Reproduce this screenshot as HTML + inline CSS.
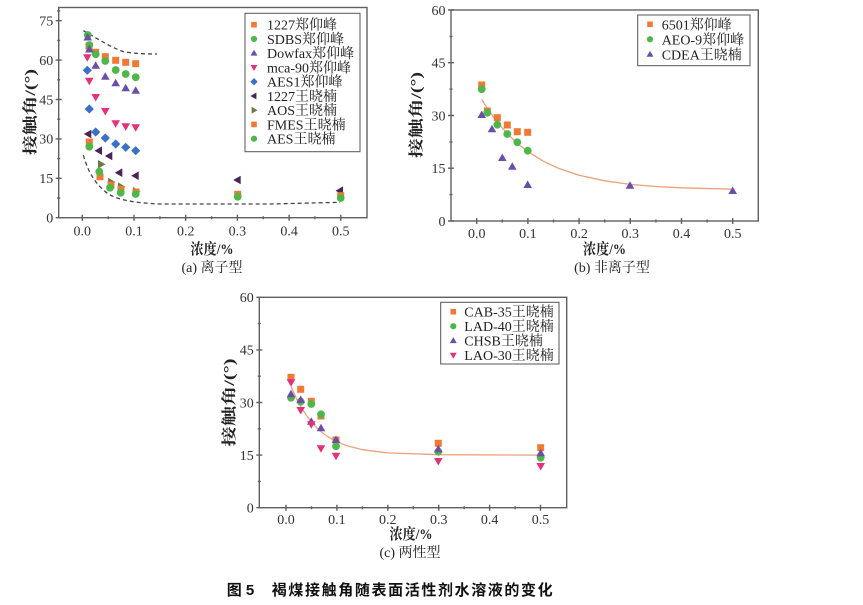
<!DOCTYPE html>
<html><head><meta charset="utf-8">
<style>
html,body{margin:0;padding:0;background:#fff;}
svg{display:block;}
.tk{font-family:"Liberation Serif","Noto Serif CJK SC",serif;font-size:14px;fill:#333;}
.lg{font-family:"Liberation Serif","Noto Serif CJK SC",serif;font-size:14px;fill:#222;}
.ti{font-family:"Liberation Serif","Noto Serif CJK SC",serif;font-size:15px;font-weight:bold;fill:#222;}
.sc{font-family:"Liberation Serif","Noto Serif CJK SC",serif;font-size:14px;fill:#222;}
.cap{font-family:"Liberation Sans","Noto Sans CJK SC",sans-serif;font-size:15px;font-weight:bold;fill:#111;}
</style></head>
<body>
<svg width="863" height="605" viewBox="0 0 863 605" xmlns="http://www.w3.org/2000/svg">
<defs>
<rect id="sq" x="-3.5" y="-3.5" width="7" height="7"/>
<circle id="ci" cx="0" cy="0" r="3.9"/>
<polygon id="tu" points="0,-4.5 4.3,3 -4.3,3"/>
<polygon id="td" points="0,4.5 4.3,-3 -4.3,-3"/>
<polygon id="di" points="0,-4.6 4.6,0 0,4.6 -4.6,0"/>
<polygon id="tl" points="-4.5,0 3,-4.3 3,4.3"/>
<polygon id="tr" points="4.5,0 -3,-4.3 -3,4.3"/>
</defs>

<!-- ================= (a) ================= -->
<g stroke="#606060" stroke-width="1.4" fill="none">
<rect x="58.7" y="7.5" width="308.3" height="210.2"/>
<path d="M55.7,217.7h6 M55.7,178.3h6 M55.7,138.9h6 M55.7,99.5h6 M55.7,60.1h6 M55.7,20.7h6
M57.2,198h3 M57.2,158.6h3 M57.2,119.2h3 M57.2,79.8h3 M57.2,40.4h3 M57.2,10.8h3"/>
<path d="M82.3,214.7v6 M134,214.7v6 M185.7,214.7v6 M237.4,214.7v6 M289.1,214.7v6 M340.8,214.7v6
M108.2,216.2v3 M159.9,216.2v3 M211.6,216.2v3 M263.3,216.2v3 M314.9,216.2v3"/>
</g>
<g class="tk" text-anchor="end">
<text x="53.3" y="222.5">0</text><text x="53.3" y="183.1">15</text><text x="53.3" y="143.7">30</text>
<text x="53.3" y="104.3">45</text><text x="53.3" y="64.9">60</text><text x="53.3" y="25.5">75</text>
</g>
<g class="tk" text-anchor="middle">
<text x="82.3" y="235.5">0.0</text><text x="134" y="235.5">0.1</text><text x="185.7" y="235.5">0.2</text>
<text x="237.4" y="235.5">0.3</text><text x="289.1" y="235.5">0.4</text><text x="340.8" y="235.5">0.5</text>
</g>
<text class="ti" transform="translate(35,112) rotate(-90)" text-anchor="middle" textLength="86" lengthAdjust="spacingAndGlyphs">接触角/(°)</text>
<text class="ti" x="212" y="254" text-anchor="middle" textLength="43" lengthAdjust="spacingAndGlyphs">浓度/%</text>
<text class="sc" x="212" y="272" text-anchor="middle">(a) 离子型</text>

<g stroke="#444" stroke-width="1.3" fill="none" stroke-dasharray="4,3">
<path d="M83.3,30.7 C95,37 108,46 123,51.5 C132,53.5 145,54 157,54"/>
<path d="M83.3,155 C88,172 96,186 110,195 C120,200 135,203 160,204 L270,204 L340,202.3"/>
</g>

<g fill="#f07a35">
<use href="#sq" x="89" y="46"/><use href="#sq" x="95.5" y="52.3"/><use href="#sq" x="105.3" y="56.7"/>
<use href="#sq" x="115.7" y="60.3"/><use href="#sq" x="125.7" y="62.3"/><use href="#sq" x="135.7" y="63.7"/>
</g>
<g fill="#4fb648">
<use href="#ci" x="87.7" y="35"/><use href="#ci" x="89.3" y="45"/><use href="#ci" x="95.7" y="54.3"/>
<use href="#ci" x="105.3" y="61"/><use href="#ci" x="115.7" y="70"/><use href="#ci" x="125.7" y="74"/><use href="#ci" x="135.7" y="77.3"/>
</g>
<g fill="#6b4ea8">
<use href="#tu" x="87.7" y="37.5"/><use href="#tu" x="89.3" y="49.5"/><use href="#tu" x="95.7" y="65.7"/>
<use href="#tu" x="105.3" y="76.7"/><use href="#tu" x="115.7" y="83.3"/><use href="#tu" x="125.7" y="88.3"/><use href="#tu" x="135.7" y="90.7"/>
</g>
<g fill="#e5307a">
<use href="#td" x="87.3" y="57.3"/><use href="#td" x="89.3" y="80.7"/><use href="#td" x="95.7" y="97"/>
<use href="#td" x="105.3" y="111"/><use href="#td" x="115.7" y="123.3"/><use href="#td" x="125.7" y="126.3"/><use href="#td" x="135.7" y="127.3"/>
</g>
<g fill="#3a70c6">
<use href="#di" x="87.3" y="70.3"/><use href="#di" x="89.3" y="109"/><use href="#di" x="95.7" y="132"/>
<use href="#di" x="105.3" y="138"/><use href="#di" x="115.7" y="144"/><use href="#di" x="125.7" y="147.3"/><use href="#di" x="135.7" y="150.7"/>
</g>
<g fill="#4a2359">
<use href="#tl" x="88.3" y="134"/><use href="#tl" x="99" y="150.7"/><use href="#tl" x="109.3" y="156"/>
<use href="#tl" x="119.3" y="172.7"/><use href="#tl" x="135.7" y="175.7"/><use href="#tl" x="237.7" y="180"/><use href="#tl" x="340" y="190.7"/>
</g>
<g fill="#6f7a3e">
<use href="#tr" x="101" y="164.3"/><use href="#tr" x="111" y="182"/><use href="#tr" x="121" y="186.7"/><use href="#tr" x="136" y="191.3"/>
</g>
<g fill="#f07a35">
<use href="#sq" x="89.3" y="142"/><use href="#sq" x="100" y="176.7"/><use href="#sq" x="111" y="185"/>
<use href="#sq" x="121" y="189.3"/><use href="#sq" x="136" y="192"/><use href="#sq" x="237.7" y="194.3"/><use href="#sq" x="340.7" y="195.7"/>
</g>
<g fill="#4fb648">
<use href="#ci" x="89.3" y="146.7"/><use href="#ci" x="99.3" y="171.7"/><use href="#ci" x="110" y="187.7"/>
<use href="#ci" x="120.7" y="192.7"/><use href="#ci" x="135.7" y="194"/><use href="#ci" x="237.7" y="196.7"/><use href="#ci" x="340.7" y="198"/>
</g>

<rect x="245" y="13.3" width="115" height="138.4" fill="#fff" stroke="#555" stroke-width="1"/>
<use href="#sq" transform="translate(254,24.7) scale(0.8)" fill="#f07a35"/>
<use href="#ci" transform="translate(254,38.95) scale(0.8)" fill="#4fb648"/>
<use href="#tu" transform="translate(254,53.2) scale(0.8)" fill="#6b4ea8"/>
<use href="#td" transform="translate(254,67.45) scale(0.8)" fill="#e5307a"/>
<use href="#di" transform="translate(254,81.7) scale(0.8)" fill="#3a70c6"/>
<use href="#tl" transform="translate(254,95.95) scale(0.8)" fill="#4a2359"/>
<use href="#tr" transform="translate(254,110.2) scale(0.8)" fill="#6f7a3e"/>
<use href="#sq" transform="translate(254,124.45) scale(0.8)" fill="#f07a35"/>
<use href="#ci" transform="translate(254,138.7) scale(0.8)" fill="#4fb648"/>
<g class="lg">
<text x="267" y="29.7">1227郑仰峰</text>
<text x="267" y="43.95">SDBS郑仰峰</text>
<text x="267" y="58.2">Dowfax郑仰峰</text>
<text x="267" y="72.45">mca-90郑仰峰</text>
<text x="267" y="86.7">AES1郑仰峰</text>
<text x="267" y="100.95">1227王晓楠</text>
<text x="267" y="115.2">AOS王晓楠</text>
<text x="267" y="129.45">FMES王晓楠</text>
<text x="267" y="143.7">AES王晓楠</text>
</g>

<!-- ================= (b) ================= -->
<g stroke="#606060" stroke-width="1.4" fill="none">
<rect x="451" y="10" width="307.3" height="211"/>
<path d="M448,221h6 M448,168.2h6 M448,115.5h6 M448,62.7h6 M448,10h6
M449.5,194.6h3 M449.5,141.9h3 M449.5,89.1h3 M449.5,36.4h3"/>
<path d="M476.7,218v6 M527.9,218v6 M579.1,218v6 M630.3,218v6 M681.5,218v6 M732.7,218v6
M502.3,219.5v3 M553.5,219.5v3 M604.7,219.5v3 M655.9,219.5v3 M707.1,219.5v3"/>
</g>
<g class="tk" text-anchor="end">
<text x="445.5" y="225.8">0</text><text x="445.5" y="173">15</text><text x="445.5" y="120.3">30</text>
<text x="445.5" y="67.5">45</text><text x="445.5" y="14.8">60</text>
</g>
<g class="tk" text-anchor="middle">
<text x="476.7" y="238">0.0</text><text x="527.9" y="238">0.1</text><text x="579.1" y="238">0.2</text>
<text x="630.3" y="238">0.3</text><text x="681.5" y="238">0.4</text><text x="732.7" y="238">0.5</text>
</g>
<text class="ti" transform="translate(421,115) rotate(-90)" text-anchor="middle" textLength="86" lengthAdjust="spacingAndGlyphs">接触角/(°)</text>
<text class="ti" x="604.5" y="254" text-anchor="middle" textLength="43" lengthAdjust="spacingAndGlyphs">浓度/%</text>
<text class="sc" x="612" y="272" text-anchor="middle">(b) 非离子型</text>

<polyline fill="none" stroke="#eba27c" stroke-width="1.3" points="481.8,99.6 486.9,107.8 497.2,122.1 507.4,133.8 517.7,143.6 527.9,151.6 543.3,161.2 558.6,168.4 579.1,175.2 604.7,180.8 630.3,184.4 655.9,186.5 681.5,187.8 732.7,189.2"/>
<g fill="#f07a35">
<use href="#sq" x="481.7" y="85"/><use href="#sq" x="487.3" y="111"/><use href="#sq" x="497.3" y="117.7"/>
<use href="#sq" x="507.3" y="125"/><use href="#sq" x="517.3" y="131.7"/><use href="#sq" x="527.7" y="132.3"/>
</g>
<g fill="#4fb648">
<use href="#ci" x="481.7" y="89.3"/><use href="#ci" x="487.3" y="112.7"/><use href="#ci" x="497.3" y="124.7"/>
<use href="#ci" x="507.3" y="134"/><use href="#ci" x="517.3" y="142.3"/><use href="#ci" x="527.7" y="150.7"/>
</g>
<g fill="#6b4ea8">
<use href="#tu" x="481.7" y="115"/><use href="#tu" x="492" y="129.3"/><use href="#tu" x="502.3" y="158"/>
<use href="#tu" x="512.3" y="166.7"/><use href="#tu" x="527.7" y="185"/><use href="#tu" x="630" y="185.7"/><use href="#tu" x="732.7" y="191"/>
</g>
<rect x="637.7" y="15" width="112.3" height="50.7" fill="#fff" stroke="#555" stroke-width="1"/>
<use href="#sq" transform="translate(650,24.3) scale(0.8)" fill="#f07a35"/>
<use href="#ci" transform="translate(650,39.3) scale(0.8)" fill="#4fb648"/>
<use href="#tu" transform="translate(650,54.3) scale(0.8)" fill="#6b4ea8"/>
<g class="lg">
<text x="661.7" y="29.3">6501郑仰峰</text>
<text x="661.7" y="44.3">AEO-9郑仰峰</text>
<text x="661.7" y="59.3">CDEA王晓楠</text>
</g>

<!-- ================= (c) ================= -->
<g stroke="#606060" stroke-width="1.4" fill="none">
<rect x="259.3" y="297.3" width="307.4" height="210.4"/>
<path d="M256.3,507.7h6 M256.3,455.1h6 M256.3,402.5h6 M256.3,349.9h6 M256.3,297.3h6
M257.8,481.4h3 M257.8,428.8h3 M257.8,376.2h3 M257.8,323.6h3"/>
<path d="M286,504.7v6 M336.9,504.7v6 M387.8,504.7v6 M438.7,504.7v6 M489.6,504.7v6 M540.5,504.7v6
M311.5,506.2v3 M362.4,506.2v3 M413.3,506.2v3 M464.2,506.2v3 M515.1,506.2v3"/>
</g>
<g class="tk" text-anchor="end">
<text x="253.8" y="512.5">0</text><text x="253.8" y="459.9">15</text><text x="253.8" y="407.3">30</text>
<text x="253.8" y="354.7">45</text><text x="253.8" y="302.1">60</text>
</g>
<g class="tk" text-anchor="middle">
<text x="286" y="524">0.0</text><text x="336.9" y="524">0.1</text><text x="387.8" y="524">0.2</text>
<text x="438.7" y="524">0.3</text><text x="489.6" y="524">0.4</text><text x="540.5" y="524">0.5</text>
</g>
<text class="ti" transform="translate(234,402.5) rotate(-90)" text-anchor="middle" textLength="88" lengthAdjust="spacingAndGlyphs">接触角/(°)</text>
<text class="ti" x="411" y="539" text-anchor="middle" textLength="43" lengthAdjust="spacingAndGlyphs">浓度/%</text>
<text class="sc" x="410" y="557" text-anchor="middle">(c) 两性型</text>

<polyline fill="none" stroke="#eba27c" stroke-width="1.3" points="291.1,386.7 296.2,398.1 301.3,407.5 306.4,415.4 311.5,422 316.5,427.5 321.6,432.1 326.7,436 336.9,441.8 347.1,445.8 362.4,449.7 387.8,452.9 438.7,454.7 540.5,455.1"/>
<g fill="#f07a35">
<use href="#sq" x="291" y="377.3"/><use href="#sq" x="300.7" y="389.3"/><use href="#sq" x="311.3" y="401.3"/>
<use href="#sq" x="321" y="416"/><use href="#sq" x="336" y="440"/><use href="#sq" x="438.3" y="443.3"/><use href="#sq" x="540.7" y="447.7"/>
</g>
<g fill="#4fb648">
<use href="#ci" x="291" y="397.7"/><use href="#ci" x="300.7" y="401.7"/><use href="#ci" x="311.3" y="404"/>
<use href="#ci" x="321" y="414.3"/><use href="#ci" x="336" y="446.3"/><use href="#ci" x="438.3" y="451.7"/><use href="#ci" x="540.7" y="457.7"/>
</g>
<g fill="#6b4ea8">
<use href="#tu" x="291" y="394.3"/><use href="#tu" x="300.7" y="400"/><use href="#tu" x="311.3" y="421.7"/>
<use href="#tu" x="321" y="428.3"/><use href="#tu" x="336" y="440"/><use href="#tu" x="438.3" y="449.3"/><use href="#tu" x="540.7" y="453.3"/>
</g>
<g fill="#e5307a">
<use href="#td" x="291" y="382.3"/><use href="#td" x="300.7" y="410"/><use href="#td" x="311.3" y="424.3"/>
<use href="#td" x="321" y="448.3"/><use href="#td" x="336" y="455.7"/><use href="#td" x="438.3" y="461"/><use href="#td" x="540.7" y="466"/>
</g>
<rect x="440.7" y="302.3" width="118.3" height="61.7" fill="#fff" stroke="#555" stroke-width="1"/>
<use href="#sq" transform="translate(453.3,311.7) scale(0.8)" fill="#f07a35"/>
<use href="#ci" transform="translate(453.3,326.2) scale(0.8)" fill="#4fb648"/>
<use href="#tu" transform="translate(453.3,340.7) scale(0.8)" fill="#6b4ea8"/>
<use href="#td" transform="translate(453.3,355.2) scale(0.8)" fill="#e5307a"/>
<g class="lg">
<text x="464.3" y="316.7">CAB-35王晓楠</text>
<text x="464.3" y="331.2">LAD-40王晓楠</text>
<text x="464.3" y="345.7">CHSB王晓楠</text>
<text x="464.3" y="360.2">LAO-30王晓楠</text>
</g>

<text class="cap" x="226.7" y="595">图 5</text>
<text class="cap" x="271.7" y="595" textLength="281" lengthAdjust="spacing">褐煤接触角随表面活性剂水溶液的变化</text>
</svg>
</body></html>
